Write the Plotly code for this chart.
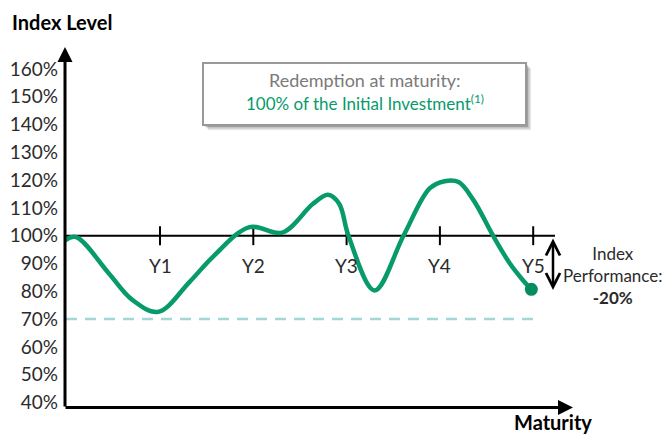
import plotly.graph_objects as go

# ---- data ----
y_ticks = [40, 50, 60, 70, 80, 90, 100, 110, 120, 130, 140, 150, 160]
y_tick_labels = [f"{v}%" for v in y_ticks]
year_labels = ["Y1", "Y2", "Y3", "Y4", "Y5"]
year_pos = [1, 2, 3, 4, 5]
curve_t = [-0.02, 0.10, 0.45, 0.70, 0.98, 1.32, 1.57, 1.96, 2.31, 2.64, 2.80,
           2.92, 3.02, 3.30, 3.61, 3.89, 4.05, 4.20, 4.36, 4.57, 4.75, 4.89, 4.98]
curve_v = [98.2, 99.5, 86.5, 77.0, 72.6, 83.5, 92.5, 103.1, 101.1, 111.5, 114.7,
           111.5, 100.0, 80.3, 100.0, 117.0, 119.6, 119.3, 112.8, 100.0, 90.0, 84.0, 80.7]
initial_level = 100
barrier_level = 70
performance_text = "-20%"

GREEN = "#079a6a"
DARK = "#2b2b2b"
FONT = "Lato"

# pixel geometry helpers (layout only); page body has an 8px margin
OFF = 8
X0, PXT, Y100, PXP = 66.7 - OFF, 93.3, 235.7 - OFF, 2.78
W, H = 670 - OFF, 434 - OFF
ML, MB = 65 - OFF, 434 - 412
def tx(px):
    return (px - OFF - X0) / PXT
def vy(py):
    return 100 + (Y100 - (py - OFF)) / PXP

xr = [tx(65), tx(670)]
yr = [vy(412), vy(OFF)]

fig = go.Figure()

# 100% reference line
fig.add_trace(go.Scatter(x=[tx(65), tx(555)], y=[initial_level, initial_level], mode="lines",
                         line=dict(color="black", width=2), hoverinfo="skip", showlegend=False))
# year ticks
tk_x, tk_y = [], []
for p in year_pos:
    tk_x += [p, p, None]
    tk_y += [initial_level + 3.4, initial_level - 3.4, None]
fig.add_trace(go.Scatter(x=tk_x, y=tk_y, mode="lines", line=dict(color="black", width=2),
                         hoverinfo="skip", showlegend=False))
# barrier dashed line
fig.add_trace(go.Scatter(x=[tx(66), tx(537)], y=[barrier_level, barrier_level], mode="lines",
                         line=dict(color="#a3d7d6", width=2.5, dash="11px,8px"),
                         hoverinfo="skip", showlegend=False))
# index curve
fig.add_trace(go.Scatter(x=curve_t, y=curve_v, mode="lines",
                         line=dict(color=GREEN, width=4.5, shape="spline", smoothing=1.0),
                         hoverinfo="skip", showlegend=False))
# end dot
fig.add_trace(go.Scatter(x=[curve_t[-1]], y=[curve_v[-1]], mode="markers",
                         marker=dict(color="#068d5f", size=13), hoverinfo="skip", showlegend=False))

annotations = []
# year labels
for p, lab in zip(year_pos, year_labels):
    annotations.append(dict(x=p, y=vy(265), text=lab, showarrow=False,
                            font=dict(family=FONT, size=19, color=DARK)))
# axis arrows
annotations.append(dict(x=tx(65), y=vy(47), ax=0, ay=361, showarrow=True, arrowhead=2,
                        arrowsize=1, arrowwidth=3, arrowcolor="black", text="", standoff=0))
annotations.append(dict(x=tx(573), y=vy(407.5), ax=-509, ay=0, showarrow=True, arrowhead=2,
                        arrowsize=1, arrowwidth=3, arrowcolor="black", text="", standoff=0))
# double arrow for performance
annotations.append(dict(x=tx(553), y=vy(290), ax=0, ay=-53, showarrow=True, arrowhead=5,
                        startarrowhead=5, arrowside="end+start", arrowsize=1.1, startarrowsize=1.1,
                        arrowwidth=2.5, arrowcolor="black", text=""))
# performance text
annotations.append(dict(x=tx(613), y=vy(275), text="Index<br>Performance:<br><b>" + performance_text + "</b>",
                        showarrow=False, align="center",
                        font=dict(family=FONT, size=17, color=DARK)))
# titles
annotations.append(dict(xref="paper", x=(10 - 65) / (670 - 65), yref="y", y=vy(22), xanchor="left",
                        text="<b>Index Level</b>", showarrow=False,
                        font=dict(family=FONT, size=20, color="black")))
annotations.append(dict(x=tx(553), yref="paper", y=-(422 - 412) / (412 - OFF), yanchor="middle",
                        text="<b>Maturity</b>",
                        showarrow=False, font=dict(family=FONT, size=20, color="black")))
# box text
annotations.append(dict(x=tx(364.5), y=vy(80), text="Redemption at maturity:", showarrow=False,
                        font=dict(family=FONT, size=18, color="#7a7a7a")))
annotations.append(dict(x=tx(364.5), y=vy(102),
                        text="100% of the Initial Investment<sup>(1)</sup>", showarrow=False,
                        font=dict(family=FONT, size=17, color=GREEN)))

shapes = []
bx0, bx1, by0, by1 = 203, 526, 63, 125
for off, col in [(5, "rgba(0,0,0,0.10)"), (3.5, "rgba(0,0,0,0.15)"), (2, "rgba(0,0,0,0.18)")]:
    shapes.append(dict(type="rect", x0=tx(bx0 + off), x1=tx(bx1 + off), y0=vy(by1 + off), y1=vy(by0 + off),
                       line=dict(width=0), fillcolor=col, layer="below"))
shapes.append(dict(type="rect", x0=tx(bx0), x1=tx(bx1), y0=vy(by1), y1=vy(by0),
                   line=dict(color="#999999", width=2), fillcolor="white", layer="below"))

fig.update_layout(
    width=W, height=H, margin=dict(l=ML, r=0, t=0, b=MB),
    paper_bgcolor="white", plot_bgcolor="rgba(0,0,0,0)",
    xaxis=dict(range=xr, showgrid=False, zeroline=False, showticklabels=False, showline=False,
               fixedrange=True),
    yaxis=dict(range=yr, showgrid=False, zeroline=False, showline=False, tickmode="array",
               tickvals=y_ticks, ticktext=y_tick_labels, ticks="", ticklabelstandoff=6,
               tickfont=dict(family=FONT, size=19, color=DARK), fixedrange=True),
    annotations=annotations, shapes=shapes, showlegend=False,
)

fig.write_html("out.html")
